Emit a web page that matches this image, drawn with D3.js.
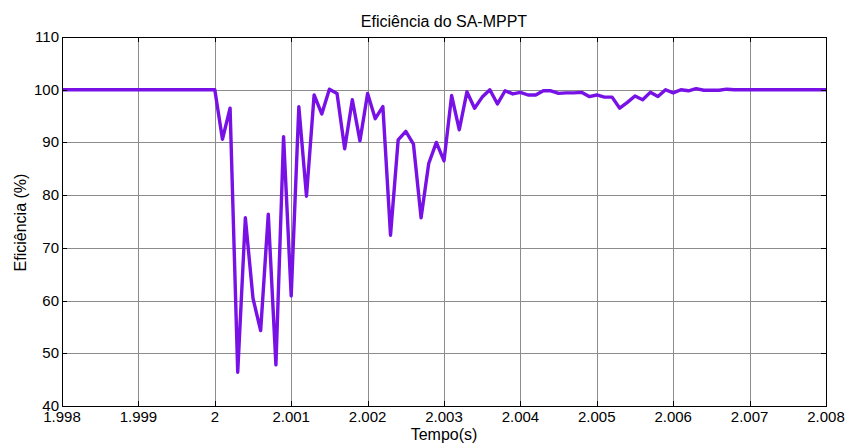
<!DOCTYPE html>
<html>
<head>
<meta charset="utf-8">
<script src="https://cdn.jsdelivr.net/npm/d3@7"></script>
<style>
  body { margin: 0; background: #fff; }
  svg { display: block; font-family: "Liberation Sans", Arial, sans-serif; }
  .grid line { stroke: #8c8c8c; stroke-width: 1; shape-rendering: crispEdges; }
  .tick-label { font-size: 15px; fill: #000; }
</style>
</head>
<body>
<svg id="chart" width="847" height="445"></svg>
<script>
// Chart data
const title = 'Eficiência do SA-MPPT';
const xLabel = 'Tempo(s)';
const yLabel = 'Eficiência (%)';
const xTicks = [1.998, 1.999, 2, 2.001, 2.002, 2.003, 2.004, 2.005, 2.006, 2.007, 2.008];
const xTickLabels = ['1.998', '1.999', '2', '2.001', '2.002', '2.003', '2.004', '2.005', '2.006', '2.007', '2.008'];
const yTicks = [40, 50, 60, 70, 80, 90, 100, 110];

// sampled every 0.1 ms starting at t = 2.0000 s
const sampleStart = 2.0;
const sampleStep = 0.0001;
const efficiency = [
  100, 90.6, 96.5, 46.4, 75.7, 60.4, 54.3, 76.4, 47.8, 91.1,
  60.9, 96.8, 79.8, 99.0, 95.4, 100.1, 99.3, 88.8, 98.1, 90.3,
  99.3, 94.5, 96.8, 72.4, 90.5, 92.1, 89.7, 75.7, 86.0, 90.0,
  86.5, 98.9, 92.4, 99.6, 96.5, 98.6, 100.0, 97.3, 99.8, 99.2,
  99.5, 99.0, 99.0, 99.8, 99.8, 99.3, 99.4, 99.4, 99.5, 98.7,
  99.0, 98.6, 98.6, 96.5, 97.6, 98.8, 98.1, 99.5, 98.7, 100.0,
  99.4, 100.0, 99.8, 100.2, 99.9, 99.9, 99.9, 100.1, 100.0
];
const steadyBefore = { t: 1.998, v: 100 };
const steadyAfter = { t: 2.008, v: 100 };

const points = [steadyBefore]
  .concat(efficiency.map((v, i) => ({ t: sampleStart + i * sampleStep, v })))
  .concat([steadyAfter]);

const svg = d3.select('#chart');
const m = { left: 62, right: 826, top: 37, bottom: 406 };

const x = d3.scaleLinear().domain([1.998, 2.008]).range([m.left, m.right]);
const y = d3.scaleLinear().domain([40, 110]).range([m.bottom, m.top]);

// grid
const grid = svg.append('g').attr('class', 'grid');
grid.selectAll('.gx').data(xTicks.slice(1, -1)).join('line')
  .attr('x1', d => Math.round(x(d)) + 0.5).attr('x2', d => Math.round(x(d)) + 0.5)
  .attr('y1', m.top).attr('y2', m.bottom);
grid.selectAll('.gy').data(yTicks.slice(1, -1)).join('line')
  .attr('y1', d => Math.round(y(d)) + 0.5).attr('y2', d => Math.round(y(d)) + 0.5)
  .attr('x1', m.left).attr('x2', m.right);

// data line
const line = d3.line().x(d => x(d.t)).y(d => y(d.v));
svg.append('path')
  .datum(points)
  .attr('d', line)
  .attr('fill', 'none')
  .attr('stroke', '#7811e6')
  .attr('stroke-width', 3.4)
  .attr('stroke-linejoin', 'round');

// box + inward ticks (Matlab style)
const frame = svg.append('g').attr('stroke', '#000').attr('shape-rendering', 'crispEdges');
frame.append('rect')
  .attr('x', m.left + 0.5).attr('y', m.top + 0.5)
  .attr('width', m.right - m.left).attr('height', m.bottom - m.top)
  .attr('fill', 'none').attr('stroke-width', 1.2);

const tl = 5;
xTicks.forEach(t => {
  const px = Math.round(x(t)) + 0.5;
  frame.append('line').attr('x1', px).attr('x2', px).attr('y1', m.bottom).attr('y2', m.bottom - tl);
  frame.append('line').attr('x1', px).attr('x2', px).attr('y1', m.top).attr('y2', m.top + tl);
});
yTicks.forEach(v => {
  const py = Math.round(y(v)) + 0.5;
  frame.append('line').attr('y1', py).attr('y2', py).attr('x1', m.left).attr('x2', m.left + tl);
  frame.append('line').attr('y1', py).attr('y2', py).attr('x1', m.right).attr('x2', m.right - tl);
});

// tick labels
svg.append('g').selectAll('text').data(xTicks).join('text')
  .attr('class', 'tick-label')
  .attr('x', d => x(d)).attr('y', m.bottom + 16)
  .attr('text-anchor', 'middle')
  .text((d, i) => xTickLabels[i]);

svg.append('g').selectAll('text').data(yTicks).join('text')
  .attr('class', 'tick-label')
  .attr('x', m.left - 3).attr('y', d => y(d) + 5)
  .attr('text-anchor', 'end')
  .text(d => d);

// titles
svg.append('text')
  .attr('x', (m.left + m.right) / 2).attr('y', 27)
  .attr('text-anchor', 'middle').attr('font-size', 16)
  .text(title);

svg.append('text')
  .attr('x', (m.left + m.right) / 2).attr('y', 440)
  .attr('text-anchor', 'middle').attr('font-size', 16)
  .text(xLabel);

svg.append('text')
  .attr('transform', `translate(26,${(m.top + m.bottom) / 2 + 1}) rotate(-90)`)
  .attr('text-anchor', 'middle').attr('font-size', 16)
  .text(yLabel);
</script>
</body>
</html>
